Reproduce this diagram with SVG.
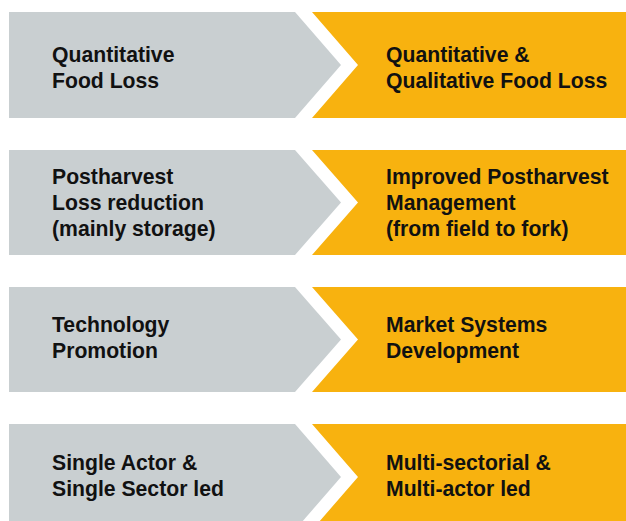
<svg xmlns="http://www.w3.org/2000/svg" width="626" height="521" viewBox="0 0 626 521">
<style>
.g{fill:#C9CFD1}
.o{fill:#F8B20F}
text{font-family:"Liberation Sans",Arial,sans-serif;font-weight:bold;font-size:21.2px;fill:#111}
</style>
<rect width="626" height="521" fill="#fff"/>
<g id="row1-left"><polygon class="g" points="9,12 295,12 341,65 295,118 9,118"/><text x="52" y="62">Quantitative</text><text x="52" y="88">Food Loss</text></g>
<g id="row1-right"><polygon class="o" points="312,12 626,12 626,118 312,118 358,65"/><text x="386" y="62">Quantitative &amp;</text><text x="386" y="88">Qualitative Food Loss</text></g>
<g id="row2-left"><polygon class="g" points="9,150 295,150 341,202.5 295,255 9,255"/><text x="52" y="184">Postharvest</text><text x="52" y="210">Loss reduction</text><text x="52" y="236">(mainly storage)</text></g>
<g id="row2-right"><polygon class="o" points="312,150 626,150 626,255 312,255 358,202.5"/><text x="386" y="184">Improved Postharvest</text><text x="386" y="210">Management</text><text x="386" y="236">(from field to fork)</text></g>
<g id="row3-left"><polygon class="g" points="9,287 295,287 341,339.5 295,392 9,392"/><text x="52" y="332">Technology</text><text x="52" y="358">Promotion</text></g>
<g id="row3-right"><polygon class="o" points="312,287 626,287 626,392 312,392 358,339.5"/><text x="386" y="332">Market Systems</text><text x="386" y="358">Development</text></g>
<g id="row4-left"><polygon class="g" points="9,424 295,424 341,477 295,530 9,530"/><text x="52" y="470">Single Actor &amp;</text><text x="52" y="496">Single Sector led</text></g>
<g id="row4-right"><polygon class="o" points="312,424 626,424 626,530 312,530 358,477"/><text x="386" y="470">Multi-sectorial &amp;</text><text x="386" y="496">Multi-actor led</text></g>
<g id="connectors"></g>
</svg>
